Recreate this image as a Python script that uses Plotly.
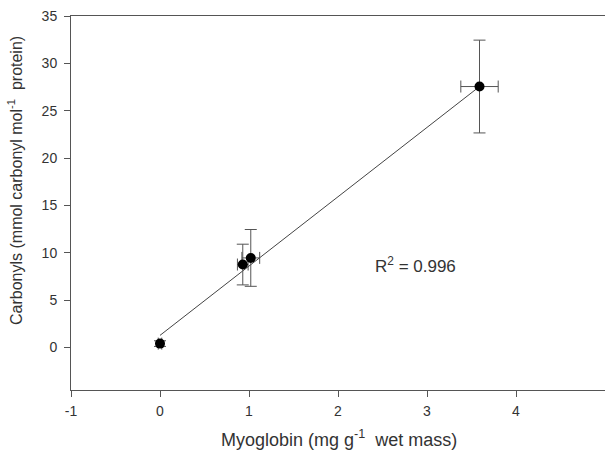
import plotly.graph_objects as go

# Data
myoglobin = [0.0, 0.93, 1.02, 3.59]
carbonyls = [0.4, 8.75, 9.45, 27.55]
carbonyls_err = [0.3, 2.15, 3.0, 4.9]
myoglobin_err = [0.02, 0.06, 0.1, 0.21]

fit_x = [0.0, 3.59]
fit_y = [1.27, 27.55]

x_ticks = [-1, 0, 1, 2, 3, 4, 5]
x_tick_text = ["-1", "0", "1", "2", "3", "4", "5"]
y_ticks = [0, 5, 10, 15, 20, 25, 30, 35]

W, H = 605, 454
L, R, T, B = 71, 0, 16, 64

fig = go.Figure()
fig.add_trace(go.Scatter(
    x=fit_x, y=fit_y, mode="lines",
    line=dict(color="#444444", width=1), showlegend=False, hoverinfo="skip"))
fig.add_trace(go.Scatter(
    x=myoglobin, y=carbonyls, mode="markers",
    marker=dict(color="black", size=10),
    error_y=dict(type="data", array=carbonyls_err, color="#555555", thickness=1, width=6),
    error_x=dict(type="data", array=myoglobin_err, color="#555555", thickness=1, width=6),
    showlegend=False))

axis_common = dict(
    showline=True, linecolor="#555555", linewidth=1,
    ticks="outside", ticklen=6, tickcolor="#555555", tickwidth=1,
    showgrid=False, zeroline=False,
    tickfont=dict(family="Liberation Sans, Arial, sans-serif", size=14, color="#333333"),
)

fig.update_layout(
    width=W, height=H,
    margin=dict(l=L, r=R, t=T, b=B),
    paper_bgcolor="white", plot_bgcolor="white",
    xaxis=dict(range=[-1, 5], tickvals=x_ticks, ticktext=x_tick_text, mirror=True,
               ticklabelstandoff=2, **axis_common),
    yaxis=dict(range=[-4.5, 35], tickvals=y_ticks, ticklabelstandoff=4, **axis_common),
    font=dict(family="Liberation Sans, Arial, sans-serif", color="#333333"),
)

plot_w = W - L - R
plot_h = H - T - B

fig.add_annotation(
    text="Myoglobin (mg g<sup>-1</sup>  wet mass)",
    xref="paper", yref="paper",
    x=(339 - L) / plot_w, y=(H - B - 438) / plot_h,
    xanchor="center", yanchor="middle", showarrow=False,
    font=dict(size=18, color="#333333"))

fig.add_annotation(
    text="Carbonyls (mmol carbonyl mol<sup>-1</sup>  protein)",
    xref="paper", yref="paper",
    x=(15 - L) / plot_w, y=(H - B - 181) / plot_h,
    xanchor="center", yanchor="middle", textangle=-90, showarrow=False,
    font=dict(size=16, color="#333333"))

fig.add_annotation(
    text="R<sup>2</sup> = 0.996",
    xref="x", yref="y", x=2.87, y=8.7,
    xanchor="center", yanchor="middle", showarrow=False,
    font=dict(size=17, color="#333333"))

fig.write_html("out.html")
